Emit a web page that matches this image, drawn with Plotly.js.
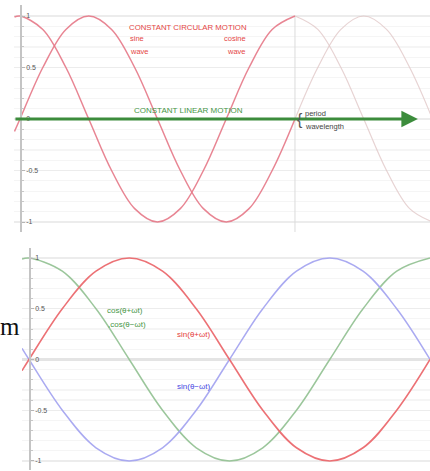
<!DOCTYPE html>
<html>
<head>
<meta charset="utf-8">
<script src="https://cdn.plot.ly/plotly-3.0.1.min.js"></script>
<style>html,body{margin:0;padding:0;background:#fff}#chart{width:430px;height:471px}</style>
</head>
<body>
<div id="chart"></div>
<script>
// ---- data (x in periods, y in amplitude) ----
var topX      = [-0.02, 0, 0.083, 0.167, 0.25, 0.333, 0.417, 0.5, 0.583, 0.667, 0.75, 0.833, 0.917, 1.0];
var topSine   = [-0.12, 0, 0.5, 0.87, 1, 0.87, 0.5, 0, -0.5, -0.87, -1, -0.87, -0.5, 0];
var topCosine = [0.99, 1, 0.87, 0.5, 0, -0.5, -0.87, -1, -0.87, -0.5, 0, 0.5, 0.87, 1];
var fadeX      = [1.0, 1.083, 1.167, 1.25, 1.333, 1.417, 1.5];
var fadeSine   = [0, 0.5, 0.87, 1, 0.87, 0.5, 0];
var fadeCosine = [1, 0.87, 0.5, 0, -0.5, -0.87, -1];
var periodX = [1, 1];
var periodY = [1, -1.1];

var botX     = [-0.0175, 0, 0.083, 0.167, 0.25, 0.333, 0.417, 0.5, 0.583, 0.667, 0.75, 0.833, 0.917, 1.0];
var botSinP  = [-0.11, 0, 0.5, 0.87, 1, 0.87, 0.5, 0, -0.5, -0.87, -1, -0.87, -0.5, 0];
var botCos   = [0.99, 1, 0.87, 0.5, 0, -0.5, -0.87, -1, -0.87, -0.5, 0, 0.5, 0.87, 1];
var botSinM  = [0.11, 0, -0.5, -0.87, -1, -0.87, -0.5, 0, 0.5, 0.87, 1, 0.87, 0.5, 0];

var yTicks = [-1, -0.5, 0, 0.5, 1];
var yTickText = ['-1', '-0.5', '0', '0.5', '1'];

var labelFont = 'Liberation Sans, Arial, sans-serif';

function line(x, y, color, width, xa, ya) {
  return {x: x, y: y, type: 'scatter', mode: 'lines', xaxis: xa, yaxis: ya,
          line: {color: color, width: width, shape: 'spline', smoothing: 1},
          hoverinfo: 'skip'};
}

var traces = [
  line(fadeX, fadeSine, 'rgba(225,200,200,0.8)', 1.2, 'x', 'y'),
  line(fadeX, fadeCosine, 'rgba(225,200,200,0.8)', 1.2, 'x', 'y'),
  {x: periodX, y: periodY, type: 'scatter', mode: 'lines', xaxis: 'x', yaxis: 'y',
   line: {color: '#dcdcdc', width: 1}, hoverinfo: 'skip'},
  line(topX, topCosine, 'rgba(230,120,135,0.9)', 1.5, 'x', 'y'),
  line(topX, topSine, 'rgba(230,120,135,0.9)', 1.5, 'x', 'y'),
  line(botX, botCos, 'rgba(150,195,150,0.95)', 1.5, 'x2', 'y2'),
  line(botX, botSinM, 'rgba(165,165,240,0.95)', 1.5, 'x2', 'y2'),
  line(botX, botSinP, 'rgba(235,105,110,0.95)', 1.6, 'x2', 'y2')
];

function yaxisCfg(domain, range, pos, zl) {
  return {
    domain: domain, range: range, anchor: 'free', position: pos,
    tickvals: yTicks, ticktext: yTickText, ticklabelposition: 'inside',
    tickfont: {family: labelFont, size: 7, color: '#555'},
    ticks: 'inside', ticklen: 3, tickcolor: '#b5b5b5',
    showline: true, linecolor: '#c4c4c4', linewidth: 1.6,
    showgrid: true, gridcolor: '#ececec', gridwidth: 1.2,
    zeroline: zl, zerolinecolor: '#e4e4e4', zerolinewidth: 3,
    minor: {dtick: 0.1, ticks: 'inside', ticklen: 2, tickcolor: '#c8c8c8', showgrid: true, gridcolor: '#f5f5f5'},
    fixedrange: true
  };
}
function xaxisCfg(domain, range, anchor) {
  return {
    domain: domain, range: range, anchor: anchor,
    showticklabels: false, showgrid: false, ticks: '', showline: false,
    zeroline: false, fixedrange: true
  };
}

var red = 'rgb(228,70,70)', green = 'rgb(70,150,70)';
function ann(x, y, text, color, size, xa, ya, anchor) {
  return {x: x, y: y, xref: xa, yref: ya, text: text, showarrow: false,
          xanchor: anchor || 'center', yanchor: 'middle',
          font: {family: labelFont, size: size, color: color}};
}

var annotations = [
  // green linear-motion arrow along the top axis
  {x: 1.447, y: 0, ax: -0.022, ay: 0, xref: 'x', yref: 'y', axref: 'x', ayref: 'y',
   text: '', showarrow: true, arrowhead: 2, arrowwidth: 3, arrowsize: 1.1, arrowcolor: 'rgb(60,140,60)'},
  ann(0.611, 0.893, 'CONSTANT CIRCULAR MOTION', red, 7.8, 'x', 'y'),
  ann(0.393, 0.777, 'sine', red, 7.5, 'x', 'y', 'left'),
  ann(0.393, 0.660, 'wave', red, 7.5, 'x', 'y', 'left'),
  ann(0.829, 0.777, 'cosine', red, 7.5, 'x', 'y', 'right'),
  ann(0.829, 0.660, 'wave', red, 7.5, 'x', 'y', 'right'),
  ann(0.611, 0.078, 'CONSTANT LINEAR MOTION', green, 8, 'x', 'y'),
  ann(1.0, 0, '{', '#555', 16, 'x', 'y', 'left'),
  ann(1.029, 0.058, 'period', '#444', 7.5, 'x', 'y', 'left'),
  ann(1.029, -0.068, 'wavelength', '#444', 7.5, 'x', 'y', 'left'),
  ann(0.24, 0.478, 'cos(θ+ωt)', green, 8, 'x2', 'y2'),
  ann(0.245, 0.34, ',cos(θ−ωt)', green, 8, 'x2', 'y2'),
  ann(0.409, 0.251, 'sin(θ+ωt)', 'rgb(228,60,60)', 8, 'x2', 'y2'),
  ann(0.409, -0.271, 'sin(θ−ωt)', 'rgb(70,70,225)', 8, 'x2', 'y2'),
  {x: 0, y: 1 - 326/471, xref: 'paper', yref: 'paper', text: 'm', showarrow: false,
   xanchor: 'left', yanchor: 'middle', xshift: -2,
   font: {family: 'Liberation Serif, Times New Roman, serif', size: 25, color: '#111'}}
];

var layout = {
  width: 430, height: 471,
  margin: {l: 0, r: 0, t: 0, b: 0},
  paper_bgcolor: '#fff', plot_bgcolor: '#fff',
  showlegend: false,
  xaxis: xaxisCfg([14/430, 1], [-0.0218, 1.491], 'y'),
  yaxis: yaxisCfg([1 - 232/471, 1 - 5/471], [-1.097, 1.107], 20/430, false),
  xaxis2: xaxisCfg([22/430, 1], [-0.0175, 1.0], 'y2'),
  yaxis2: yaxisCfg([1 - 470/471, 1 - 248/471], [-1.089, 1.0985], 29/430, true),
  annotations: annotations
};

Plotly.newPlot('chart', traces, layout, {displayModeBar: false, staticPlot: true});
</script>
</body>
</html>
